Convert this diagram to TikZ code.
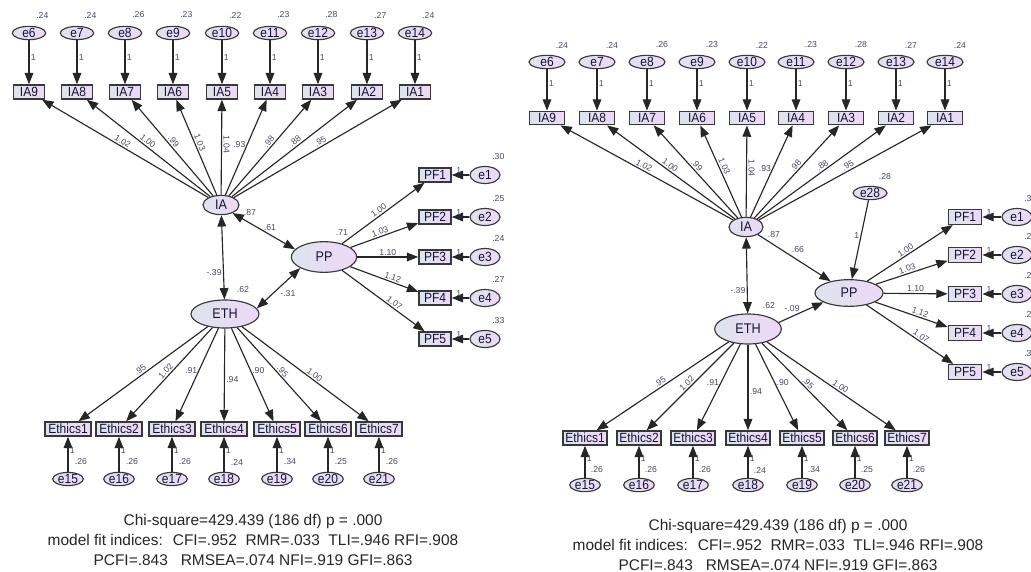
\documentclass[tikz,border=0pt]{standalone}
\usepackage{fontspec}
\setmainfont{Liberation Sans}
\newfontfamily\nodefont{Liberation Sans}[FakeStretch=0.9]
\usetikzlibrary{shapes,arrows.meta,positioning}
\definecolor{fillL}{RGB}{222,227,238}
\definecolor{fillR}{RGB}{238,216,246}
\definecolor{rim}{RGB}{55,55,60}
\definecolor{estc}{RGB}{70,72,105}
\definecolor{txt}{RGB}{20,20,50}
\tikzset{
    >={Triangle[length=8.5pt, width=6.5pt]},
    indic/.style={rectangle, draw=rim, left color=fillL, right color=fillR, line width=1.1pt, minimum height=10.5pt, inner sep=0.5pt, font=\nodefont\fontsize{10}{10}\selectfont, text=txt},
    lat/.style={ellipse, draw=rim, left color=fillL, right color=fillR, line width=0.85pt, inner sep=0pt, font=\nodefont\fontsize{10.5}{10}\selectfont, text=txt},
    err/.style={lat, font=\nodefont\fontsize{10}{10}\selectfont},
    line/.style={draw=black!85, line width=0.85pt, ->},
    dline/.style={line, <->},
    est/.style={font=\fontsize{6.5}{7}\selectfont, text=estc, inner sep=1pt},
    ls/.style={est, sloped, above},
    ll/.style={est, left},
    lr/.style={est, right},
    lv/.style={est, rotate=-90, anchor=south},
    fitidx/.style={font=\fontsize{11.6}{15}\selectfont, align=center, text=black!85, inner sep=0pt}
}
\begin{document}
\begin{tikzpicture}[x=0.75pt, y=-0.75pt, on grid]
\useasboundingbox (0,0) rectangle (1031,571);
\clip (0,0) rectangle (1031,571);

% left model: IA, PP and ETH correlated
\node[lat, minimum width=27pt, minimum height=14.5pt] (IAL) at (221,205) {IA};
\node[lat, minimum width=49pt, minimum height=23pt] (PPL) at (324,257) {PP};
\node[lat, minimum width=51pt, minimum height=21pt] (ETHL) at (225,314) {ETH};

\foreach \nb/\en/\px/\vr/\ld/\lst in {9/6/29/.24/1.02/ls, 8/7/77/.24/1.00/ls, 7/8/125/.26/.99/ls, 6/9/173/.23/1.03/ls, 5/10/222/.22/1.04/lv, 4/11/270/.23/.93/ll, 3/12/318/.28/.98/ls, 2/13/367/.27/.88/ls, 1/14/415/.24/.95/ls}{
    \node[indic, minimum width=23pt] (IA\nb L) at (\px,92) {IA\nb};
    \node[err, minimum width=25pt, minimum height=9.75pt, above=44.25pt of IA\nb L] (e\en L) {e\en};
    \node[est] at ([xshift=10pt, yshift=13.5pt]e\en L.center) {\vr};
    \path[line] (e\en L) -- node[lr, pos=0.4] {1} (IA\nb L);
    \path[line] (IAL) -- node[\lst, pos=0.53] {\ld} (IA\nb L);
}

\foreach \nb/\py/\vr/\ld/\lp in {1/175/.30/1.00/0.48, 2/217/.25/1.03/0.46, 3/257/.24/1.10/0.5, 4/298/.27/1.12/0.6, 5/339/.33/1.07/0.6}{
    \node[indic, minimum width=24pt] (PF\nb L) at (435,\py) {PF\nb};
    \node[err, minimum width=22.5pt, minimum height=12.75pt, right=37.5pt of PF\nb L] (e\nb L) {e\nb};
    \node[est] at ([xshift=10pt, yshift=14pt]e\nb L.center) {\vr};
    \path[line] (e\nb L) -- node[est, above, pos=0.6] {1} (PF\nb L);
    \path[line] (PPL) -- node[ls, pos=\lp] {\ld} (PF\nb L);
}

\foreach \nb/\en/\px/\vr/\ld/\lst/\lp in {1/15/68/.26/.95/ls/0.5, 2/16/119/.26/1.02/ls/0.5, 3/17/172/.26/.91/ll/0.45, 4/18/224/.24/.94/lr/0.55, 5/19/277/.34/.90/lr/0.45, 6/20/328/.25/.95/ls/0.5, 7/21/379/.26/1.00/ls/0.55}{
    \node[indic, minimum width=34.5pt] (Ethics\nb L) at (\px,429) {Ethics\nb};
    \node[err, minimum width=23pt, minimum height=9.75pt, below=37.5pt of Ethics\nb L] (e\en L) {e\en};
    \node[est] at ([xshift=9.75pt, yshift=12.75pt]e\en L.center) {\vr};
    \path[line] (e\en L) -- node[lr, pos=0.6] {1} (Ethics\nb L);
    \path[line] (ETHL) -- node[\lst, pos=\lp] {\ld} (Ethics\nb L);
}

\path[dline] (IAL) -- node[ll, pos=0.68] {-.39} (ETHL);
\path[dline] (IAL.-35) -- node[est, above=2pt, pos=0.6] {.61} (PPL.165);
\path[dline] (ETHL.10) -- node[est, below right, pos=0.5] {-.31} (PPL.205);
\node[est] (vIAL) at ([xshift=21.75pt, yshift=-6pt]IAL.center) {.87};
\node[est] (vPPL) at ([xshift=13.5pt, yshift=18pt]PPL.center) {.71};
\node[est] (vETHL) at ([xshift=13.5pt, yshift=18pt]ETHL.center) {.62};

\node[fitidx] (fitL) at (253,540) {Chi-square=429.439 (186 df) p = .000\\model fit indices:~ CFI=.952~ RMR=.033~ TLI=.946 RFI=.908\\PCFI=.843~~ RMSEA=.074 NFI=.919 GFI=.863};

% right model: IA and ETH predict PP
\node[lat, minimum width=25.5pt, minimum height=14.5pt] (IAR) at (746,227) {IA};
\node[lat, minimum width=51pt, minimum height=20pt] (PPR) at (849,293) {PP};
\node[lat, minimum width=50pt, minimum height=22.5pt] (ETHR) at (748,329) {ETH};
\node[err, minimum width=25.5pt, minimum height=10pt] (e28R) at (870,193) {e28};

\foreach \nb/\en/\px/\vr/\ld/\lst in {9/6/547/.24/1.02/ls, 8/7/597/.24/1.00/ls, 7/8/647/.26/.99/ls, 6/9/697/.23/1.03/ls, 5/10/747/.22/1.04/lv, 4/11/796/.23/.93/ll, 3/12/846/.28/.98/ls, 2/13/896/.27/.88/ls, 1/14/945/.24/.95/ls}{
    \node[indic, minimum width=26pt, minimum height=10pt] (IA\nb R) at (\px,118) {IA\nb};
    \node[err, minimum width=27pt, minimum height=10pt, above=42pt of IA\nb R] (e\en R) {e\en};
    \node[est] at ([xshift=11.25pt, yshift=12.75pt]e\en R.center) {\vr};
    \path[line] (e\en R) -- node[lr, pos=0.35] {1} (IA\nb R);
    \path[line] (IAR) -- node[\lst, pos=0.53] {\ld} (IA\nb R);
}

\foreach \nb/\py/\vr/\ld/\lp in {1/217/.30/1.00/0.48, 2/255/.25/1.03/0.46, 3/294/.24/1.10/0.5, 4/333/.27/1.12/0.6, 5/372/.33/1.07/0.6}{
    \node[indic, minimum width=25pt, minimum height=11pt] (PF\nb R) at (965,\py) {PF\nb};
    \node[err, minimum width=22.5pt, minimum height=12.75pt, right=39pt of PF\nb R] (e\nb R) {e\nb};
    \node[est] at ([xshift=10pt, yshift=14pt]e\nb R.center) {\vr};
    \path[line] (e\nb R) -- node[est, above, pos=0.65] {1} (PF\nb R);
    \path[line] (PPR) -- node[ls, pos=\lp] {\ld} (PF\nb R);
}

\foreach \nb/\en/\px/\vr/\ld/\lst/\lp in {1/15/585/.26/.95/ls/0.5, 2/16/639/.26/1.02/ls/0.5, 3/17/693/.26/.91/ll/0.45, 4/18/748/.24/.94/lr/0.55, 5/19/802/.34/.90/lr/0.45, 6/20/855/.25/.95/ls/0.5, 7/21/907/.26/1.00/ls/0.55}{
    \node[indic, minimum width=33pt] (Ethics\nb R) at (\px,438) {Ethics\nb};
    \node[err, minimum width=23pt, minimum height=10pt, below=35.25pt of Ethics\nb R] (e\en R) {e\en};
    \node[est] at ([xshift=9pt, yshift=11.25pt]e\en R.center) {\vr};
    \path[line] (e\en R) -- node[lr, pos=0.6] {1} (Ethics\nb R);
    \path[line] (ETHR) -- node[\lst, pos=\lp] {\ld} (Ethics\nb R);
}

\path[dline] (IAR) -- node[ll, pos=0.7] {-.39} (ETHR);
\path[line] (IAR) -- node[est, above=4pt, pos=0.55] {.66} (PPR);
\path[line] (ETHR.12) -- node[est, above=2pt, pos=0.3] {-.09} (PPR.200);
\path[line] (e28R) -- node[ll, pos=0.45] {1} (PPR);
\node[est] (vIAR) at ([xshift=21pt, yshift=-6pt]IAR.center) {.87};
\node[est] (vETHR) at ([xshift=15.75pt, yshift=17.25pt]ETHR.center) {.62};
\node[est] (ve28R) at ([xshift=11.25pt, yshift=12pt]e28R.center) {.28};

\node[fitidx] (fitR) at (778,545) {Chi-square=429.439 (186 df) p = .000\\model fit indices:~ CFI=.952~ RMR=.033~ TLI=.946 RFI=.908\\PCFI=.843~~ RMSEA=.074 NFI=.919 GFI=.863};
\end{tikzpicture}
\end{document}
